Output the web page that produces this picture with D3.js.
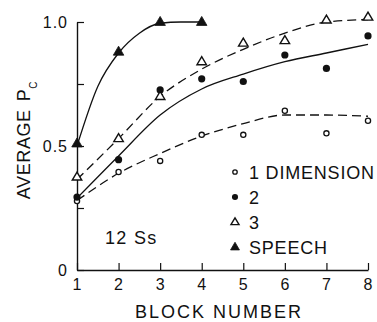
<!DOCTYPE html>
<html><head><meta charset="utf-8">
<script src="https://cdn.jsdelivr.net/npm/d3@7"></script>
<style>
body{margin:0;background:#fff;}
svg{display:block;}
text{font-family:"Liberation Sans",Arial,sans-serif;fill:#111;}
</style></head>
<body>
<svg id="c" width="377" height="322"></svg>
<script>
// ---- data ----
const blocks = [1,2,3,4,5,6,7,8];
const speechBlocks = [1,2,3,4];
const oneDim = [0.278, 0.395, 0.44, 0.545, 0.545, 0.642, 0.551, 0.602];
const twoDim = [0.294, 0.445, 0.726, 0.771, 0.76, 0.867, 0.813, 0.944];
const threeDim = [0.375, 0.53, 0.70, 0.84, 0.915, 0.925, 1.008, 1.02];
const speech = [0.51, 0.88, 1.0, 1.0];
// fitted curves
const fitBlocks = [1,2,3,4,5,6,7,8];
const oneFit = [0.28, 0.39, 0.47, 0.54, 0.59, 0.625, 0.625, 0.62];
const twoFit = [0.29, 0.46, 0.625, 0.73, 0.79, 0.84, 0.875, 0.91];
const threeFit = [0.365, 0.53, 0.70, 0.81, 0.89, 0.955, 1.0, 1.01];
const speechFitBlocks = [1, 1.5, 2, 2.5, 3, 3.5, 4];
const speechFit = [0.50, 0.74, 0.875, 0.955, 0.995, 1.0, 1.0];
const xTickLabels = ["1","2","3","4","5","6","7","8"];
const yTicks = [0, 0.25, 0.5, 0.75, 1.0];
const yTickLabels = {0:"0", 0.5:"0.5", 1:"1.0"};
const legendLabels = ["1 DIMENSION", "2", "3", "SPEECH"];
const xTitle = "BLOCK NUMBER";
const yTitle = "AVERAGE";
const note = "12 Ss";

// ---- layout ----
const svg = d3.select("#c");
const x = d3.scaleLinear().domain([1,8]).range([77,368]);
const y = d3.scaleLinear().domain([0,1]).range([270,22]);

// axes
const ya = d3.axisLeft(y).tickValues(yTicks).tickSizeInner(-7).tickSizeOuter(0).tickPadding(9)
  .tickFormat(d => yTickLabels[d] !== undefined ? yTickLabels[d] : "");
const gy = svg.append("g").attr("transform","translate(77,0)").call(ya);
const xa = d3.axisBottom(x).tickValues(blocks).tickSizeInner(-7).tickSizeOuter(0).tickPadding(9)
  .tickFormat((d,i) => xTickLabels[i]);
const gx = svg.append("g").attr("transform","translate(0,270)").call(xa);
[gx, gy].forEach(g => {
  g.select(".domain").attr("stroke","#111").attr("stroke-width",1.4);
  g.selectAll(".tick line").attr("stroke","#111").attr("stroke-width",1.2);
  g.selectAll(".tick text").attr("font-size",16).attr("fill","#111")
    .style("font-family","'Liberation Sans',Arial,sans-serif").style("letter-spacing","1px");
});

// titles
svg.append("text").attr("x",219).attr("y",318).attr("text-anchor","middle")
  .attr("font-size",18).style("letter-spacing","2px").text(xTitle);
const yt = svg.append("text").attr("transform","translate(29.5,140) rotate(-90)")
  .attr("text-anchor","middle").attr("font-size",18).style("letter-spacing","0.6px");
yt.append("tspan").text(yTitle);
yt.append("tspan").attr("dx",8).text("P");
yt.append("tspan").attr("font-size",10).attr("dy",7.5).text("C");

svg.append("text").attr("x",105).attr("y",244).attr("font-size",18)
  .style("letter-spacing","1.3px").text(note);

// curves
const line = d3.line().curve(d3.curveMonotoneX);
function drawFit(xs, ys, dashed){
  svg.append("path").attr("d", line(xs.map((b,i)=>[x(b), y(ys[i])])))
    .attr("fill","none").attr("stroke","#111").attr("stroke-width",1.3)
    .attr("stroke-dasharray", dashed ? "9,5" : null);
}
drawFit(fitBlocks, oneFit, true);
drawFit(fitBlocks, twoFit, false);
drawFit(fitBlocks, threeFit, true);
drawFit(speechFitBlocks, speechFit, false);

// markers
function tri(w,h){ return `M0,${-h*0.62}L${w/2},${h*0.38}L${-w/2},${h*0.38}Z`; }
function drawMarker(g, kind, cx, cy, s){
  if(kind===0) g.append("circle").attr("cx",cx).attr("cy",cy).attr("r",2.6*s)
      .attr("fill","#fff").attr("stroke","#111").attr("stroke-width",1.3);
  else if(kind===1) g.append("circle").attr("cx",cx).attr("cy",cy).attr("r",3.6*s).attr("fill","#111");
  else if(kind===2) g.append("path").attr("d",tri(9.5*s,8*s)).attr("transform",`translate(${cx},${cy})`)
      .attr("fill","#fff").attr("stroke","#111").attr("stroke-width",1.4);
  else g.append("path").attr("d",tri(10.5*s,9*s)).attr("transform",`translate(${cx},${cy})`)
      .attr("fill","#111").attr("stroke","#111").attr("stroke-width",0.8);
}
const gm = svg.append("g");
[[blocks, oneDim, 0],[blocks, twoDim, 1],[blocks, threeDim, 2],[speechBlocks, speech, 3]]
  .forEach(([xs, ys, k]) => xs.forEach((b,i) => drawMarker(gm, k, x(b), y(ys[i]), 1)));

// legend
const lg = svg.append("g");
legendLabels.forEach((lab,i) => {
  const cy = 172 + i*25;
  drawMarker(lg, i, 235, cy, 0.85);
  lg.append("text").attr("x",249).attr("y",cy+6.5).attr("font-size",18)
    .style("letter-spacing","0.8px").text(lab);
});
</script>
</body></html>
